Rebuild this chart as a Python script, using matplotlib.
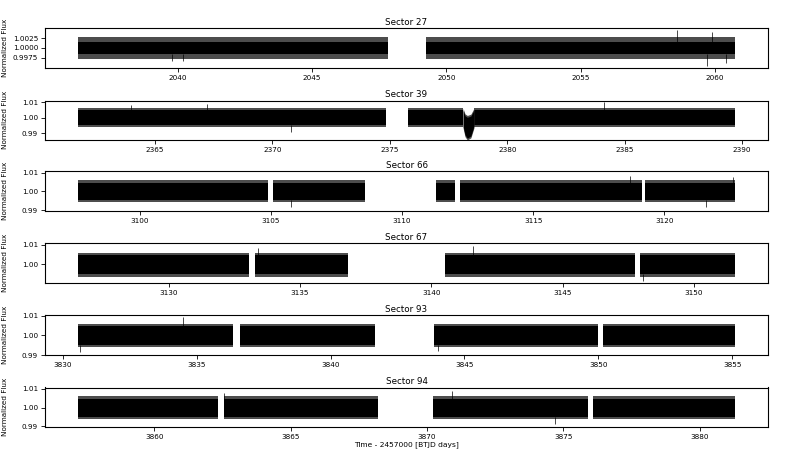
import matplotlib
matplotlib.use("Agg")
import matplotlib.pyplot as plt
from matplotlib.ticker import FormatStrFormatter

# sectors and their observing segments (BTJD days)
sectors = [27, 39, 66, 67, 93, 94]
segments = [
    [[2036.28, 2047.82], [2049.24, 2060.75]],
    [[2361.72, 2374.83], [2375.79, 2378.12], [2378.58, 2389.70]],
    [[3097.64, 3104.88], [3105.07, 3108.60], [3111.30, 3112.03],
     [3112.20, 3119.13], [3119.28, 3122.70]],
    [[3126.55, 3133.07], [3133.30, 3136.83], [3140.53, 3147.76],
     [3147.95, 3151.56]],
    [[3830.56, 3836.37], [3836.60, 3841.66], [3843.86, 3850.00],
     [3850.19, 3855.11]],
    [[3857.20, 3862.35], [3862.57, 3868.20], [3870.22, 3875.90],
     [3876.10, 3881.30]],
]

# flux scatter: dense core and the sparser spikes around it
core_lo = [0.99845, 0.9953, 0.9953, 0.9952, 0.9953, 0.9952]
core_hi = [1.00155, 1.0047, 1.0047, 1.0048, 1.0047, 1.0048]
spike_lo = [0.99720, 0.9942, 0.9942, 0.9938, 0.9940, 0.9941]
spike_hi = [1.00280, 1.0062, 1.0060, 1.0060, 1.0060, 1.0062]

# transit-like dip in sector 39
dip_t = [2378.12, 2378.20, 2378.30, 2378.45, 2378.58]
dip_lo = [0.9945, 0.9890, 0.9868, 0.9882, 0.9945]
dip_hi = [1.0047, 1.0012, 1.0002, 1.0010, 1.0047]

# isolated outliers (time, flux)
out_t = [
    [2039.8, 2040.2, 2058.6, 2059.9, 2059.7, 2060.4],
    [2370.8, 2364.0, 2367.2, 2384.1],
    [3118.7, 3122.6, 3105.76, 3121.6],
    [3133.4, 3148.05, 3141.6],
    [3834.47, 3830.63, 3844.0],
    [3862.57, 3870.9, 3874.7],
]
out_f = [
    [0.9967, 0.9967, 1.0045, 1.0040, 0.9955, 0.9962],
    [0.9906, 1.0082, 1.0085, 1.0098],
    [1.0081, 1.0076, 0.9914, 0.9917],
    [1.0083, 0.9915, 1.0095],
    [1.0094, 0.9915, 0.9918],
    [1.0078, 1.0087, 0.9913],
]

ylims = [(0.99495, 1.00505), (0.9856, 1.0110), (0.9895, 1.0109),
         (0.9905, 1.0109), (0.9900, 1.0104), (0.9897, 1.0107)]
yticks = [[0.9975, 1.0, 1.0025], [0.99, 1.0, 1.01], [0.99, 1.0, 1.01],
          [1.0, 1.01], [0.99, 1.0, 1.01], [0.99, 1.0, 1.01]]
xticks = [[2040, 2045, 2050, 2055, 2060],
          [2365, 2370, 2375, 2380, 2385, 2390],
          [3100, 3105, 3110, 3115, 3120],
          [3130, 3135, 3140, 3145, 3150],
          [3830, 3835, 3840, 3845, 3850, 3855],
          [3860, 3865, 3870, 3875, 3880]]

# panel boxes in pixels from top (top, bottom)
boxes = [(28, 68), (100.5, 140), (171, 211), (243, 283), (315, 355), (387.5, 427)]

fig = plt.figure(figsize=(8, 4.5), dpi=100)
for i, sec in enumerate(sectors):
    top, bot = boxes[i]
    ax = fig.add_axes([45 / 800, 1 - bot / 450, 723 / 800, (bot - top) / 450])
    for t0, t1 in segments[i]:
        ax.fill_between([t0, t1], spike_lo[i], spike_hi[i], color="0.3", lw=0)
        ax.fill_between([t0, t1], core_lo[i], core_hi[i], color="black", lw=0)
    if sec == 39:
        ax.fill_between(dip_t, [f - 0.0012 for f in dip_lo],
                        [f + 0.0012 for f in dip_hi], color="0.3", lw=0)
        ax.fill_between(dip_t, dip_lo, dip_hi, color="black", lw=0)
    for t, f in zip(out_t[i], out_f[i]):
        base = core_hi[i] if f > 1 else core_lo[i]
        ax.vlines(t, base, f, color="black", lw=0.5)
    ax.set_ylim(*ylims[i])
    ax.set_yticks(yticks[i])
    ax.set_xticks(xticks[i])
    fmt = "%.4f" if sec == 27 else "%.2f"
    ax.yaxis.set_major_formatter(FormatStrFormatter(fmt))
    ax.tick_params(labelsize=5.2, length=3, width=0.6, pad=2)
    for s in ax.spines.values():
        s.set_linewidth(0.8)
    ax.set_title(f"Sector {sec}", fontsize=6.3, pad=2.5)
    ax.set_ylabel("Normalized Flux", fontsize=5.2)
    ax.yaxis.set_label_coords(-0.051, 0.5)
    if i == len(sectors) - 1:
        ax.set_xlabel("Time - 2457000 [BTJD days]", fontsize=5.4, labelpad=1)

fig.savefig("out.png", dpi=100)
